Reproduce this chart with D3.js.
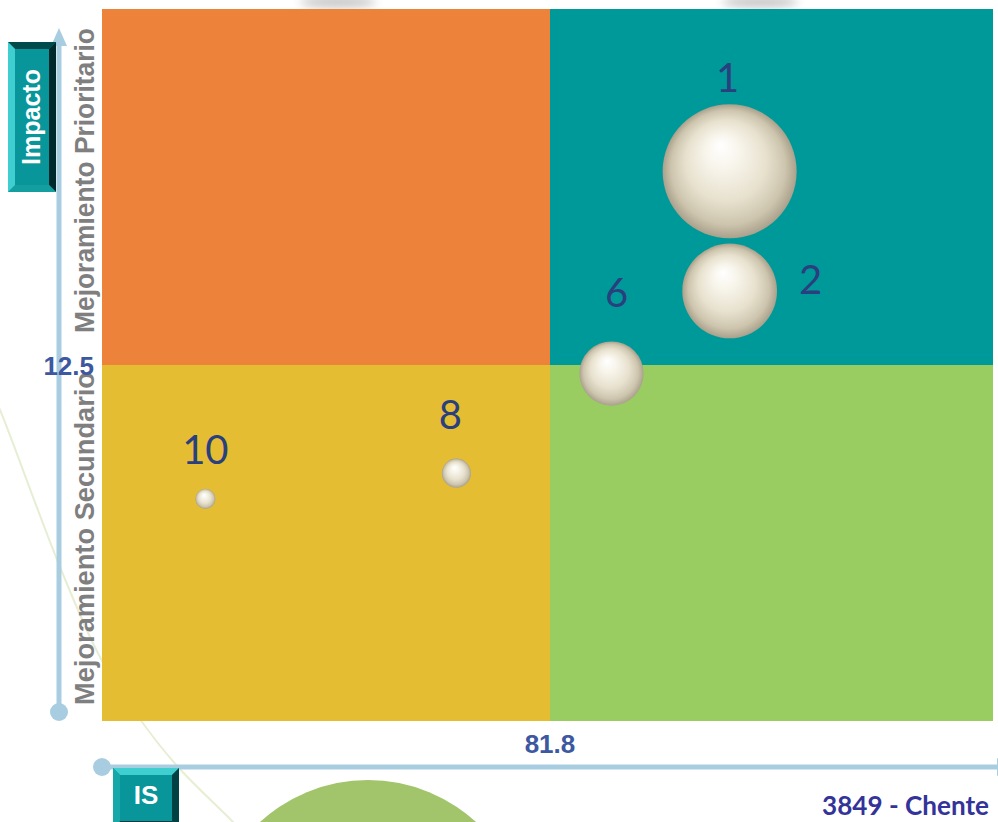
<!DOCTYPE html>
<html>
<head>
<meta charset="utf-8">
<script src="https://cdn.jsdelivr.net/npm/d3@7"></script>
<style>
  html, body { margin: 0; padding: 0; background: #ffffff; }
  svg { display: block; }
</style>
</head>
<body>
<svg id="chart" width="998" height="822"></svg>
<script>
// ---- data ----
const ids     = ["1", "2", "6", "8", "10"];
const isScore = [89.1, 89.1, 84.3, 78.0, 67.8];   // x: IS
const impact  = [19.3, 15.1, 12.2, 8.7, 7.8];     // y: Impacto
const weight  = [20, 10, 4.6, 0.95, 0.45];        // bubble size
const xCross  = 81.8;
const yCross  = 12.5;
const xDomain = [63.6, 99.8];
const yDomain = [0, 25];
const quadrantNames = ["Mejoramiento Prioritario", "Mejoramiento Secundario"];
const axisNames = ["Impacto", "IS"];
const footer = "3849 - Chente";

// label nudges (px) relative to each bubble centre
const labelNudge = [[-2, -79], [81, 3], [5, -67], [-6, -44], [0, -35]];

const W = 998, H = 822;
const plot = { left: 102, right: 993, top: 9, bottom: 721 };

const svg = d3.select("#chart");
const defs = svg.append("defs");

const x = d3.scaleLinear().domain(xDomain).range([plot.left, plot.right]);
const y = d3.scaleLinear().domain(yDomain).range([plot.bottom, plot.top]);
const r = d3.scaleSqrt().domain([0, d3.max(weight)]).range([0, 67]);

// ---- background decoration ----
const blur = defs.append("filter").attr("id", "soft").attr("x", "-50%").attr("y", "-200%")
  .attr("width", "200%").attr("height", "500%");
blur.append("feGaussianBlur").attr("stdDeviation", 5);

[338, 760].forEach(cx => {
  svg.append("ellipse").attr("cx", cx).attr("cy", 2).attr("rx", 38).attr("ry", 6)
    .attr("fill", "#9a9a9a").attr("opacity", 0.55).attr("filter", "url(#soft)");
});

svg.append("path")
  .attr("d", d3.line().curve(d3.curveCatmullRom)([[-5, 400], [0, 410], [60, 567], [100, 657], [142, 722], [178, 767], [233, 822], [240, 830]]))
  .attr("fill", "none").attr("stroke", "#e6eed3").attr("stroke-width", 2);

svg.append("circle").attr("cx", 368).attr("cy", 940).attr("r", 160).attr("fill", "#a2c56b");

// ---- quadrants ----
const quads = [
  { x0: xDomain[0], x1: xCross, y0: yCross, y1: yDomain[1], fill: "#ed833a" },
  { x0: xCross, x1: xDomain[1], y0: yCross, y1: yDomain[1], fill: "#009999" },
  { x0: xDomain[0], x1: xCross, y0: yDomain[0], y1: yCross, fill: "#e5bd33" },
  { x0: xCross, x1: xDomain[1], y0: yDomain[0], y1: yCross, fill: "#9acd61" }
];
svg.append("g").selectAll("rect").data(quads).join("rect")
  .attr("x", d => x(d.x0)).attr("y", d => y(d.y1))
  .attr("width", d => x(d.x1) - x(d.x0)).attr("height", d => y(d.y0) - y(d.y1))
  .attr("fill", d => d.fill)
  .attr("shape-rendering", "crispEdges");

// ---- axis lines ----
const axisCol = "#a9cde0";
const vx = 59;
svg.append("line").attr("x1", vx).attr("x2", vx).attr("y1", 44).attr("y2", 712)
  .attr("stroke", axisCol).attr("stroke-width", 5);
svg.append("path").attr("d", `M${vx},28 L${vx + 8},46 L${vx - 8},46 Z`).attr("fill", axisCol);
svg.append("circle").attr("cx", vx).attr("cy", 712).attr("r", 9).attr("fill", axisCol);

const hy = 767;
svg.append("line").attr("x1", 102).attr("x2", 998).attr("y1", hy).attr("y2", hy)
  .attr("stroke", axisCol).attr("stroke-width", 5);
svg.append("path").attr("d", `M1016,${hy} L997,${hy - 9} L997,${hy + 9} Z`).attr("fill", axisCol);
svg.append("circle").attr("cx", 102).attr("cy", hy).attr("r", 9).attr("fill", axisCol);

// ---- bevelled title buttons ----
function bevelButton(x0, y0, w, h, b, cols) {
  // cols: [face, top, right, bottom, left]
  const g = svg.append("g");
  const x1 = x0 + w, y1 = y0 + h;
  g.append("rect").attr("x", x0).attr("y", y0).attr("width", w).attr("height", h).attr("fill", cols[0]);
  const poly = (pts, c) => g.append("polygon").attr("points", pts.map(p => p.join(",")).join(" ")).attr("fill", c);
  poly([[x0, y0], [x1, y0], [x1 - b, y0 + b], [x0 + b, y0 + b]], cols[1]);
  poly([[x1, y0], [x1, y1], [x1 - b, y1 - b], [x1 - b, y0 + b]], cols[2]);
  poly([[x0, y1], [x1, y1], [x1 - b, y1 - b], [x0 + b, y1 - b]], cols[3]);
  poly([[x0, y0], [x0 + b, y0 + b], [x0 + b, y1 - b], [x0, y1]], cols[4]);
  return g;
}

// y-axis title button (vertical)
bevelButton(8, 42, 48, 150, 7, ["#08969a", "#004a4c", "#00292b", "#139f9f", "#3fcfd0"]);
svg.append("text")
  .attr("transform", "translate(40,117) rotate(-90)")
  .attr("text-anchor", "middle")
  .attr("font-family", "Liberation Sans, Arial, sans-serif").attr("font-weight", "bold")
  .attr("font-size", 25).attr("fill", "#ffffff")
  .text(axisNames[0]);

// x-axis title button
bevelButton(113, 768, 66, 60, 7, ["#08969a", "#3fcfd0", "#004244", "#00393b", "#16a7a8"]);
svg.append("text")
  .attr("x", 146).attr("y", 804)
  .attr("text-anchor", "middle")
  .attr("font-family", "Liberation Sans, Arial, sans-serif").attr("font-weight", "bold")
  .attr("font-size", 26).attr("fill", "#ffffff")
  .text(axisNames[1]);

// ---- quadrant side labels ----
const sideFont = "Liberation Sans, Arial, sans-serif";
svg.append("text")
  .attr("transform", `translate(94,${y(yDomain[1]) + 324}) rotate(-90)`)
  .attr("font-family", sideFont).attr("font-weight", "bold").attr("font-size", 27)
  .attr("fill", "#7f7f7f").attr("textLength", 305).attr("lengthAdjust", "spacingAndGlyphs")
  .text(quadrantNames[0]);
svg.append("text")
  .attr("transform", `translate(94,${y(yDomain[0]) - 16}) rotate(-90)`)
  .attr("font-family", sideFont).attr("font-weight", "bold").attr("font-size", 27)
  .attr("fill", "#7f7f7f").attr("textLength", 333).attr("lengthAdjust", "spacingAndGlyphs")
  .text(quadrantNames[1]);

// ---- crossing value labels ----
svg.append("text")
  .attr("x", 94).attr("y", y(yCross) + 10)
  .attr("text-anchor", "end")
  .attr("font-family", sideFont).attr("font-weight", "bold").attr("font-size", 26)
  .attr("fill", "#3d57a0")
  .text(yCross);
svg.append("text")
  .attr("x", x(xCross)).attr("y", 753)
  .attr("text-anchor", "middle")
  .attr("font-family", sideFont).attr("font-weight", "bold").attr("font-size", 26)
  .attr("fill", "#3d57a0")
  .text(xCross);

// ---- bubbles ----
const grad = defs.append("radialGradient").attr("id", "pearl")
  .attr("cx", 0.5).attr("cy", 0.5).attr("r", 0.5).attr("fx", 0.43).attr("fy", 0.3);
[[0, "#ffffff"], [0.25, "#f8f5ec"], [0.6, "#e7e1ce"], [0.85, "#cdc5ae"], [1, "#a9a18b"]]
  .forEach(([o, c]) => grad.append("stop").attr("offset", o).attr("stop-color", c));

const points = ids.map((id, i) => ({ id, x: isScore[i], y: impact[i], w: weight[i], nudge: labelNudge[i] }));

svg.append("g").selectAll("circle").data(points).join("circle")
  .attr("cx", d => x(d.x)).attr("cy", d => y(d.y)).attr("r", d => r(d.w))
  .attr("fill", "url(#pearl)");

svg.append("g").selectAll("text").data(points).join("text")
  .attr("x", d => x(d.x) + d.nudge[0]).attr("y", d => y(d.y) + d.nudge[1])
  .attr("text-anchor", "middle")
  .attr("font-family", "Lato, Open Sans, sans-serif").attr("font-size", 40)
  .attr("fill", "#2a3f7e")
  .text(d => d.id);

// ---- footer ----
svg.append("text")
  .attr("x", 989).attr("y", 815)
  .attr("text-anchor", "end")
  .attr("font-family", "Lato, Open Sans, sans-serif").attr("font-weight", "bold").attr("font-size", 26)
  .attr("fill", "#333399").attr("textLength", 167).attr("lengthAdjust", "spacingAndGlyphs")
  .text(footer);
</script>
</body>
</html>
